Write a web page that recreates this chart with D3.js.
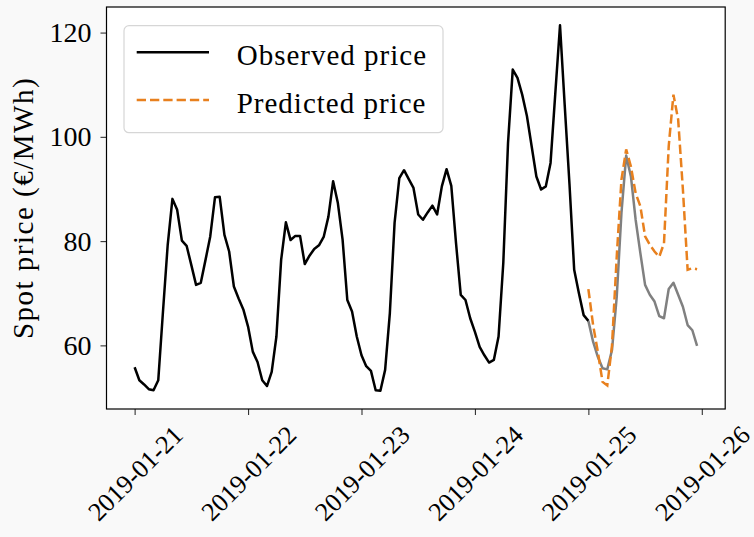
<!DOCTYPE html>
<html>
<head>
<meta charset="utf-8">
<script src="https://cdn.jsdelivr.net/npm/d3@7"></script>
<style>
  body { margin: 0; background: #f9f9f9; }
  svg text { font-family: "Liberation Serif", "DejaVu Serif", serif !important; fill: #000; }
</style>
</head>
<body>
<script>
// Hourly spot prices starting 2019-01-21 00:00 (UTC)
const startDay = "2019-01-21";
const observedPrice = [
  55.8, 53.3, 52.5, 51.6, 51.4, 53.3, 66.5, 79.3, 88.1, 86.0, 80.1, 79.1,
  75.4, 71.6, 72.0, 76.4, 80.9, 88.4, 88.5, 81.2, 78.0, 71.3, 69.0, 66.9,
  63.6, 58.8, 56.8, 53.3, 52.2, 54.9, 61.7, 76.4, 83.6, 80.2, 81.0, 81.0,
  75.6, 77.2, 78.5, 79.2, 80.8, 84.7, 91.5, 87.3, 80.3, 68.7, 66.5, 61.7,
  58.1, 56.0, 55.1, 51.4, 51.3, 55.3, 66.2, 83.5, 92.1, 93.6, 91.9, 90.2,
  85.1, 84.1, 85.5, 86.8, 85.1, 90.5, 93.8, 90.6, 79.6, 69.7, 68.7, 65.2,
  62.6, 59.7, 58.1, 56.7, 57.2, 61.7, 75.8, 98.8, 112.9, 111.3, 108.1, 104.0,
  98.2, 92.4, 89.9, 90.5, 95.0, 108.3, 121.4, 106.0, 91.0, 74.5, 70.0, 65.8,
  64.7, 60.7, 57.8, 55.6, 55.4, 59.1, 69.3, 85.4, 96.4, 92.4, 84.1, 77.7,
  71.6, 69.7, 68.4, 65.6, 65.2, 70.8, 72.0, 69.7, 67.4, 63.9, 62.9, 59.9
];
// Predicted prices for 2019-01-25 00:00 .. 23:00
const predictedPrice = [
  70.8, 63.9, 58.8, 53.0, 52.3, 60.0, 77.0, 91.8, 97.6, 94.3, 89.2, 86.7,
  80.9, 79.3, 78.0, 77.0, 79.6, 98.2, 108.1, 103.3, 89.9, 74.5, 74.8, 74.6
];
const forecastStart = 96;   // index of 2019-01-25 00:00
const yTicks = [60, 80, 100, 120];
const legendLabels = ["Observed price", "Predicted price"];

const serif = '"Liberation Serif", "DejaVu Serif", serif';
const start = d3.utcParse("%Y-%m-%d")(startDay);
const hourToDate = h => new Date(start.getTime() + h * 3600e3);

const observed = observedPrice.map((v, i) => ({date: hourToDate(i), value: v}));
const history = observed.slice(0, forecastStart + 1);
const actual = observed.slice(forecastStart);
const predicted = predictedPrice.map((v, i) => ({date: hourToDate(forecastStart + i), value: v}));

// Dimensions and margins
const margin = {top: 7, right: 28.8, bottom: 128, left: 106.5},
      width = 754 - margin.left - margin.right,
      height = 537 - margin.top - margin.bottom;

const svg = d3.select("body")
  .append("svg")
  .attr("width", 754)
  .attr("height", 537)
  .append("g")
  .attr("transform", `translate(${margin.left},${margin.top})`);

svg.append("rect")
  .attr("width", width)
  .attr("height", height)
  .attr("fill", "#fff");

// matplotlib-like 5% margins
const nHours = observedPrice.length - 1;
const pad = nHours * 0.05;
const x = d3.scaleUtc()
  .domain([hourToDate(-pad), hourToDate(nHours + pad)])
  .range([0, width]);

const allVals = observedPrice.concat(predictedPrice);
const yMin = d3.min(allVals), yMax = d3.max(allVals);
const yPad = (yMax - yMin) * 0.05;
const y = d3.scaleLinear()
  .domain([yMin - yPad, yMax + yPad])
  .range([height, 0]);

// x-axis
const days = d3.utcDay.range(start, hourToDate(nHours + pad));
const xAxis = svg.append("g")
  .attr("transform", `translate(0,${height})`)
  .attr("font-family", serif)
  .call(d3.axisBottom(x).tickValues(days).tickFormat(d3.utcFormat("%Y-%m-%d")).tickSize(6));
xAxis.select(".domain").remove();
xAxis.selectAll(".tick line").attr("stroke", "#333").attr("stroke-width", 1.1);
xAxis.selectAll(".tick text")
  .attr("y", 0)
  .attr("dy", "0.35em")
  .attr("text-anchor", "middle")
  .attr("transform", "translate(0,64) rotate(-45)")
  .style("font-family", serif)
  .style("font-size", "26px");

// y-axis
const yAxis = svg.append("g")
  .attr("font-family", serif)
  .call(d3.axisLeft(y).tickValues(yTicks).tickSize(6).tickPadding(9));
yAxis.select(".domain").remove();
yAxis.selectAll(".tick line").attr("stroke", "#333").attr("stroke-width", 1.1);
yAxis.selectAll(".tick text")
  .style("font-family", serif)
  .style("font-size", "28px");

// y-axis label
svg.append("text")
  .attr("transform", `translate(${33 - margin.left},${height / 2}) rotate(-90)`)
  .attr("text-anchor", "middle")
  .style("font-family", serif)
  .style("font-size", "29px")
  .style("letter-spacing", "1.5px")
  .text("Spot price (€/MWh)");

// Lines
const line = d3.line().x(d => x(d.date)).y(d => y(d.value));

svg.append("path")
  .datum(actual)
  .attr("fill", "none")
  .attr("stroke", "#808080")
  .attr("stroke-width", 2.5)
  .attr("stroke-linejoin", "round")
  .attr("d", line);

svg.append("path")
  .datum(history)
  .attr("fill", "none")
  .attr("stroke", "#000")
  .attr("stroke-width", 2.5)
  .attr("stroke-linejoin", "round")
  .attr("d", line);

svg.append("path")
  .datum(predicted)
  .attr("fill", "none")
  .attr("stroke", "#e8801e")
  .attr("stroke-width", 2.5)
  .attr("stroke-dasharray", "9.3,4")
  .attr("d", line);

// Spines
svg.append("rect")
  .attr("width", width)
  .attr("height", height)
  .attr("fill", "none")
  .attr("stroke", "#000")
  .attr("stroke-width", 1.2);

// Legend
const legend = svg.append("g")
  .attr("transform", `translate(${124 - margin.left},${25.7 - margin.top})`);
legend.append("rect")
  .attr("width", 319)
  .attr("height", 107)
  .attr("rx", 5)
  .attr("fill", "#fff")
  .attr("fill-opacity", 0.85)
  .attr("stroke", "#d6d6d6")
  .attr("stroke-width", 1.2);

const legendStyles = [
  {color: "#000", dash: null},
  {color: "#e8801e", dash: "9.3,4"}
];
legendLabels.forEach((label, i) => {
  const ly = 26.6 + i * 47.7;
  legend.append("line")
    .attr("x1", 12.7).attr("x2", 85)
    .attr("y1", ly).attr("y2", ly)
    .attr("stroke", legendStyles[i].color)
    .attr("stroke-width", 2.5)
    .attr("stroke-dasharray", legendStyles[i].dash);
  legend.append("text")
    .attr("x", 112.7)
    .attr("y", ly + 13)
    .style("font-family", serif)
    .style("font-size", "29px")
    .style("letter-spacing", "1px")
    .text(label);
});
</script>
</body>
</html>
